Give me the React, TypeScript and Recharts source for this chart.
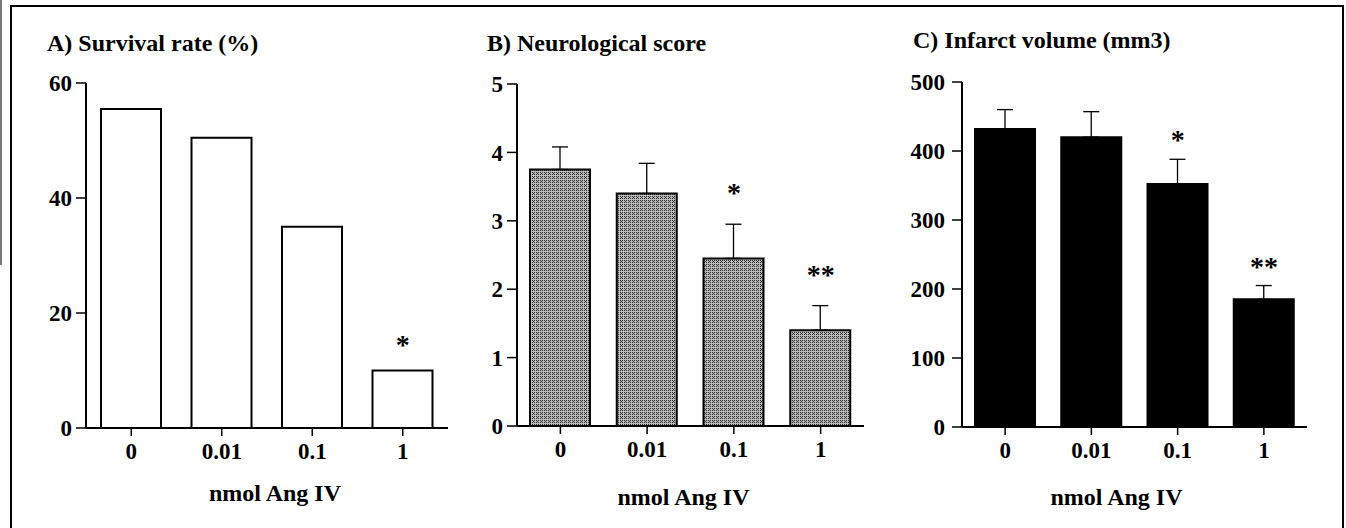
import React from "react";
import {
  Bar,
  ComposedChart,
  ErrorBar,
  LabelList,
  Line,
  XAxis,
  YAxis
} from "recharts";

const doses = ["0", "0.01", "0.1", "1"];

const survivalRate = [55.5, 50.5, 35, 10];
const survivalStars = ["", "", "", "*"];

const neuroScore = [3.75, 3.4, 2.45, 1.4];
const neuroErr = [0.33, 0.44, 0.5, 0.36];
const neuroStars = ["", "", "*", "**"];

const infarctVolume = [432, 420, 352, 185];
const infarctErr = [28, 37, 36, 20];
const infarctStars = ["", "", "*", "**"];

const survivalTicks = [0, 20, 40, 60];
const neuroTicks = [0, 1, 2, 3, 4, 5];
const infarctTicks = [0, 100, 200, 300, 400, 500];

const FONT = "'Liberation Serif', 'Times New Roman', serif";

function buildRows(values: number[], errs: number[] | null, stars: string[]) {
  return doses.map((dose, i) => ({
    dose,
    value: values[i],
    err: [0, errs ? errs[i] : 0],
    top: values[i] + (errs ? errs[i] : 0),
    star: stars[i]
  }));
}

interface PanelProps {
  left: number;
  width: number;
  margin: { top: number; right: number; left: number; bottom: number };
  yWidth: number;
  xHeight: number;
  ticks: number[];
  rows: ReturnType<typeof buildRows>;
  fill: string;
  showErr: boolean;
  starOffset: number;
  yTickMargin: number;
  labelOffset: number;
  labelDx: number;
}

const tickStyle = { fill: "#000", fontSize: 23, fontWeight: "bold", fontFamily: FONT };

function Panel(p: PanelProps) {
  const max = p.ticks[p.ticks.length - 1];
  return (
    <div style={{ position: "absolute", left: p.left, top: 0 }}>
      <ComposedChart width={p.width} height={528} data={p.rows} margin={p.margin}>
        <defs>
          <pattern id="stipple" width="4" height="4" patternUnits="userSpaceOnUse">
            <rect width="4" height="4" fill="#bdbdbd" />
            <rect x="0" y="0" width="1" height="1" fill="#2a2a2a" />
            <rect x="2" y="0" width="1" height="1" fill="#2a2a2a" />
            <rect x="1" y="1" width="1" height="1" fill="#2a2a2a" />
            <rect x="0" y="2" width="1" height="1" fill="#2a2a2a" />
            <rect x="2" y="2" width="1" height="1" fill="#2a2a2a" />
          </pattern>
        </defs>
        <XAxis
          dataKey="dose"
          height={p.xHeight}
          tickSize={8}
          tickMargin={7}
          tick={tickStyle}
          axisLine={{ stroke: "#000", strokeWidth: 2 }}
          tickLine={{ stroke: "#000", strokeWidth: 1.5 }}
          label={{
            value: "nmol Ang IV",
            position: "insideBottom",
            offset: p.labelOffset,
            dx: p.labelDx,
            fill: "#000",
            fontSize: 24,
            fontWeight: "bold",
            fontFamily: FONT
          }}
        />
        <XAxis
          xAxisId="top"
          dataKey="dose"
          orientation="top"
          height={0}
          tick={false}
          tickLine={false}
          axisLine={{ stroke: "#000", strokeWidth: 2 }}
        />
        <YAxis
          width={p.yWidth}
          domain={[0, max]}
          ticks={p.ticks}
          interval={0}
          tickSize={10}
          tickMargin={p.yTickMargin}
          tick={tickStyle}
          axisLine={{ stroke: "#000", strokeWidth: 2 }}
          tickLine={{ stroke: "#000", strokeWidth: 1.5 }}
        />
        <YAxis
          yAxisId="right"
          orientation="right"
          width={0}
          domain={[0, 1]}
          tick={false}
          tickLine={false}
          axisLine={{ stroke: "#000", strokeWidth: 2 }}
        />
        <Bar dataKey="value" barSize={60} fill={p.fill} stroke="#000" strokeWidth={2} isAnimationActive={false}>
          {p.showErr ? (
            <ErrorBar dataKey="err" width={8} stroke="#000" strokeWidth={1.3} direction="y" />
          ) : null}
        </Bar>
        <Line dataKey="top" stroke="none" dot={false} activeDot={false} isAnimationActive={false}>
          <LabelList
            dataKey="star"
            position="top"
            offset={p.starOffset}
            fill="#000"
            fontSize={28}
            fontWeight="bold"
            fontFamily={FONT}
          />
        </Line>
      </ComposedChart>
    </div>
  );
}

const titleStyle: React.CSSProperties = {
  position: "absolute",
  fontFamily: FONT,
  fontWeight: "bold",
  fontSize: 24,
  lineHeight: "24px",
  color: "#000",
  whiteSpace: "nowrap"
};

export default function App() {
  return (
    <div
      style={{
        position: "absolute",
        left: 0,
        top: 0,
        width: 1346,
        height: 528,
        overflow: "hidden",
        background: "#fff"
      }}
    >
      <div style={{ position: "absolute", left: 0, top: 0, width: 2, height: 265, background: "#777" }} />
      <div
        style={{
          position: "absolute",
          left: 10,
          top: 5,
          width: 1330,
          height: 600,
          border: "2px solid #000"
        }}
      />
      <div style={{ ...titleStyle, left: 47, top: 31 }}>A) Survival rate (%)</div>
      <div style={{ ...titleStyle, left: 487, top: 31 }}>B) Neurological score</div>
      <div style={{ ...titleStyle, left: 913, top: 28 }}>C) Infarct volume (mm3)</div>

      <Panel
        left={0}
        width={450}
        margin={{ top: 83, right: 2, left: 0, bottom: 0 }}
        yWidth={86}
        xHeight={100}
        ticks={survivalTicks}
        rows={buildRows(survivalRate, null, survivalStars)}
        fill="#fff"
        showErr={false}
        starOffset={17}
        yTickMargin={4}
        labelOffset={27}
        labelDx={8}
      />
      <Panel
        left={440}
        width={440}
        margin={{ top: 84, right: 16, left: 0, bottom: 0 }}
        yWidth={77}
        xHeight={102}
        ticks={neuroTicks}
        rows={buildRows(neuroScore, neuroErr, neuroStars)}
        fill="url(#stipple)"
        showErr={true}
        starOffset={22}
        yTickMargin={4}
        labelOffset={23}
        labelDx={-7}
      />
      <Panel
        left={880}
        width={440}
        margin={{ top: 82, right: 13, left: 0, bottom: 0 }}
        yWidth={82}
        xHeight={101}
        ticks={infarctTicks}
        rows={buildRows(infarctVolume, infarctErr, infarctStars)}
        fill="#000"
        showErr={true}
        starOffset={10}
        yTickMargin={7}
        labelOffset={23}
        labelDx={-18}
      />
    </div>
  );
}
